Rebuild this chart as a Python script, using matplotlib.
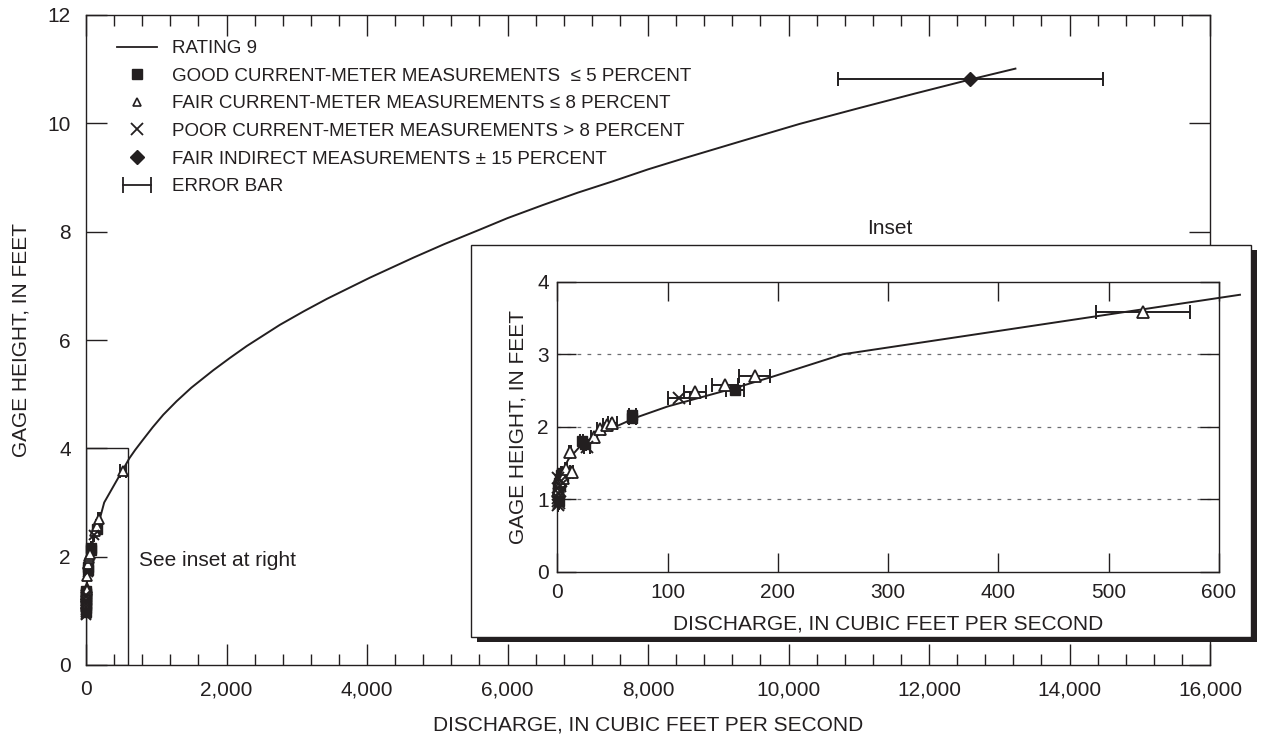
import numpy as np
import matplotlib
matplotlib.use("Agg")
import matplotlib.pyplot as plt
from matplotlib.patches import Rectangle
from matplotlib.lines import Line2D
from matplotlib.legend_handler import HandlerLine2D

plt.rcParams['font.family'] = ['Liberation Sans', 'DejaVu Sans']

INK = '#231f20'
W, H = 1262, 742

# Rating 9: discharge (cubic feet per second) and gage height (feet)
rating_q = [0.3, 2, 5, 10, 20, 30, 45, 60, 70, 100, 160, 195, 259, 619,
            700, 800, 950, 1100, 1290, 1500, 1810, 2050, 2290, 2760, 3100, 3430,
            4040, 4660, 5100, 5610, 6000, 6500, 7000, 7500, 8000, 8500, 9300, 10160,
            11000, 11800, 12590, 13230]
rating_h = [0.95, 1.25, 1.40, 1.55, 1.72, 1.83, 1.95, 2.05, 2.12, 2.28, 2.53, 2.69, 3.00, 3.82,
            3.97, 4.14, 4.39, 4.62, 4.87, 5.12, 5.44, 5.67, 5.89, 6.28, 6.53, 6.76,
            7.15, 7.52, 7.77, 8.04, 8.25, 8.49, 8.72, 8.93, 9.15, 9.35, 9.66, 9.99,
            10.28, 10.55, 10.81, 11.01]

# Good current-meter measurements (<= 5 percent)
good_q = [0.5, 0.8, 1.0, 1.5, 2.0, 2.5, 3.0, 4.0, 5.0, 1.2, 22, 25, 68, 68, 161]
good_h = [1.05, 1.10, 1.15, 1.22, 1.28, 1.20, 1.33, 1.36, 1.32, 0.98, 1.81, 1.76, 2.12, 2.16, 2.51]
good_pct = 5

# Fair current-meter measurements (<= 8 percent)
fair_q = [0.8, 2.5, 5, 8, 11.5, 13, 33, 39, 45, 50, 125, 152, 179, 531]
fair_h = [1.12, 1.25, 1.30, 1.42, 1.65, 1.38, 1.86, 1.97, 2.02, 2.05, 2.48, 2.57, 2.70, 3.58]
fair_pct = 8

# Poor current-meter measurements (> 8 percent)
poor_q = [0.3, 0.5, 1.0, 1.2, 1.5, 2.0, 2.5, 3.5, 0.8, 27, 110]
poor_h = [0.92, 0.98, 1.02, 0.95, 1.08, 1.18, 1.12, 1.25, 1.30, 1.72, 2.40]
poor_pct = 9

# Fair indirect measurements (+/- 15 percent)
indirect_q = [12590]
indirect_h = [10.81]
indirect_pct = 15

main_xticks = [0, 2000, 4000, 6000, 8000, 10000, 12000, 14000, 16000]
main_xticklabels = ['0', '2,000', '4,000', '6,000', '8,000', '10,000', '12,000', '14,000', '16,000']
main_yticks = [0, 2, 4, 6, 8, 10, 12]
inset_xticks = [0, 100, 200, 300, 400, 500, 600]
inset_yticks = [0, 1, 2, 3, 4]
inset_grid = [1, 2, 3]
inset_xlim = (0, 600)
inset_ylim = (0, 4)

TICK_FS = 15
LABEL_FS = 15
LEGEND_FS = 13.5

fig = plt.figure(figsize=(W / 100, H / 100), dpi=100)
fig.patch.set_facecolor('white')

# ---------------- main panel ----------------
ax = fig.add_axes([86 / W, (H - 665) / H, 1124 / W, 650 / H])
ax.set_xlim(0, 16000)
ax.set_ylim(0, 12)
ax.set_xticks(main_xticks)
ax.set_xticklabels(main_xticklabels)
ax.set_xticks(np.arange(0, 16001, 400), minor=True)
ax.set_yticks(main_yticks)
ax.tick_params(which='both', direction='in', top=True, right=True, colors=INK,
               labelsize=TICK_FS, width=1.0)
ax.tick_params(which='major', length=15, pad=11)
ax.tick_params(which='minor', length=8)
for s in ax.spines.values():
    s.set_color(INK)
    s.set_linewidth(1.0)
ax.set_xlabel('DISCHARGE, IN CUBIC FEET PER SECOND', fontsize=LABEL_FS, color=INK, labelpad=12)
ax.set_ylabel('GAGE HEIGHT, IN FEET', fontsize=LABEL_FS, color=INK, labelpad=12)

# outline of the region enlarged in the inset
ax.add_patch(Rectangle((inset_xlim[0], inset_ylim[0]), inset_xlim[1] - inset_xlim[0],
                       inset_ylim[1] - inset_ylim[0], fill=False, edgecolor=INK, lw=1.0, zorder=2))
ax.text(750, 1.93, 'See inset at right', fontsize=LABEL_FS, color=INK, va='center', ha='left')

ax.plot(rating_q, rating_h, color=INK, lw=1.4, zorder=3, solid_joinstyle='round')


def draw_measurements(axis, sizes, cap):
    ms_sq, ms_tri, ms_x = sizes
    groups = [
        (good_q, good_h, good_pct, dict(marker='s', mfc=INK, mec=INK, ms=ms_sq, mew=1.0)),
        (fair_q, fair_h, fair_pct, dict(marker='^', mfc='white', mec=INK, ms=ms_tri, mew=1.3)),
        (poor_q, poor_h, poor_pct, dict(marker='x', mec=INK, ms=ms_x, mew=1.4)),
        (indirect_q, indirect_h, indirect_pct, dict(marker='D', mfc=INK, mec=INK, ms=7.5, mew=1.0)),
    ]
    for q, h, pct, style in groups:
        q = np.asarray(q, dtype=float)
        axis.errorbar(q, h, xerr=q * pct / 100.0, fmt='none', ecolor=INK,
                      elinewidth=1.4, capsize=cap, capthick=1.4, zorder=4)
    for q, h, pct, style in groups:
        axis.plot(q, h, linestyle='none', clip_on=False, zorder=5, **style)


draw_measurements(ax, (6.5, 6.5, 6.5), 4.8)

# legend
h_line = Line2D([], [], color=INK, lw=1.3)
h_good = Line2D([], [], ls='none', marker='s', ms=7, mfc=INK, mec=INK)
h_fair = Line2D([], [], ls='none', marker='^', ms=6, mfc='white', mec=INK, mew=1.2)
h_poor = Line2D([], [], ls='none', marker='x', ms=8, mec=INK, mew=1.3)
h_ind = Line2D([], [], ls='none', marker='D', ms=7, mfc=INK, mec=INK)
h_err = Line2D([], [], color=INK, lw=1.3, marker='|', ms=11, mew=1.3)
leg = ax.legend(
    [h_line, h_good, h_fair, h_poor, h_ind, h_err],
    ['RATING 9',
     'GOOD CURRENT-METER MEASUREMENTS  \u2264 5 PERCENT',
     'FAIR CURRENT-METER MEASUREMENTS \u2264 8 PERCENT',
     'POOR CURRENT-METER MEASUREMENTS > 8 PERCENT',
     'FAIR INDIRECT MEASUREMENTS \u00b1 15 PERCENT',
     'ERROR BAR'],
    loc='upper left', bbox_to_anchor=(117 / W, (H - 40) / H), bbox_transform=fig.transFigure,
    frameon=False, fontsize=LEGEND_FS, handlelength=2.13, handletextpad=0.8,
    labelspacing=0.56, borderpad=0, borderaxespad=0,
    handler_map={h_err: HandlerLine2D(numpoints=2)})
for t in leg.get_texts():
    t.set_color(INK)

# ---------------- inset frame with drop shadow ----------------
bx0, by_top, bw, bh = 471, 245, 780, 392
fig.patches.append(Rectangle(((bx0 + 6) / W, (H - by_top - bh - 5) / H), bw / W, bh / H,
                             transform=fig.transFigure, facecolor=INK, edgecolor='none', zorder=1))
fig.patches.append(Rectangle((bx0 / W, (H - by_top - bh) / H), bw / W, bh / H,
                             transform=fig.transFigure, facecolor='white',
                             edgecolor=INK, lw=1.0, zorder=1.1))
fig.text(890 / W, (H - 228) / H, 'Inset', fontsize=LABEL_FS, color=INK, ha='center', va='center')

# ---------------- inset panel ----------------
axi = fig.add_axes([557.3 / W, (H - 571.9) / H, 661.7 / W, 290.2 / H], zorder=3)
axi.set_xlim(*inset_xlim)
axi.set_ylim(*inset_ylim)
axi.set_xticks(inset_xticks)
axi.set_yticks(inset_yticks)
axi.tick_params(direction='in', top=True, right=True, length=14, width=1.0, colors=INK,
                labelsize=TICK_FS)
axi.tick_params(axis='x', pad=8)
axi.tick_params(axis='y', pad=6)
for s in axi.spines.values():
    s.set_color(INK)
    s.set_linewidth(1.0)
for lvl in inset_grid:
    axi.axhline(lvl, color='#6d6e70', lw=0.9, ls=(0, (3, 5)), zorder=1)
axi.set_xlabel('DISCHARGE, IN CUBIC FEET PER SECOND', fontsize=LABEL_FS, color=INK, labelpad=9)
axi.set_ylabel('GAGE HEIGHT, IN FEET', fontsize=LABEL_FS, color=INK, labelpad=7)

rq = np.asarray(rating_q)
rh = np.asarray(rating_h)
keep = rq <= 620
axi.plot(rq[keep], rh[keep], color=INK, lw=1.4, zorder=3, clip_on=False)
draw_measurements(axi, (7.5, 8.5, 8.5), 5.0)

fig.savefig('out.png', dpi=100)
